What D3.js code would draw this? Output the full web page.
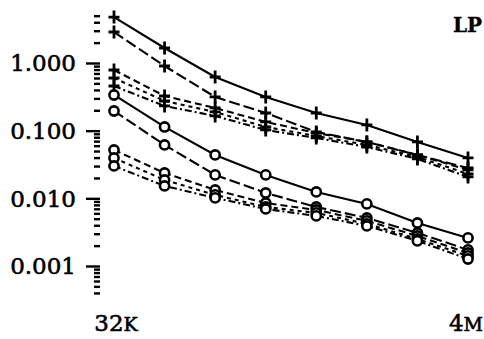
<!DOCTYPE html>
<html>
<head>
<meta charset="utf-8">
<script src="https://cdn.jsdelivr.net/npm/d3@7"></script>
<style>
  body { margin: 0; background: #fff; }
  text { font-family: "DejaVu Serif", serif; fill: #000; stroke: #000; stroke-width: 0.6px; }
</style>
</head>
<body>
<script>
// problem sizes along the x axis (32K ... 4M)
var sizes = [32768, 65536, 131072, 262144, 524288, 1048576, 2097152, 4194304]
var sizeLabels = [{ n: '32', s: 'K', at: 32768 }, { n: '4', s: 'M', at: 4194304 }]

// "+" series
var plus1 = [4.78, 1.665, 0.621, 0.315, 0.1825, 0.1214, 0.0681, 0.0395]
var plus2 = [2.87, 0.903, 0.315, 0.1825, 0.0957, 0.0681, 0.0438, 0.0281]
var plus3 = [0.788, 0.3256, 0.2165, 0.1345, 0.0925, 0.0681, 0.0438, 0.0263]
var plus4 = [0.6, 0.2746, 0.189, 0.1134, 0.0835, 0.0615, 0.0409, 0.0229]
var plus5 = [0.457, 0.2317, 0.1649, 0.1024, 0.078, 0.0574, 0.0382, 0.0207]

// "o" series
var circ1 = [0.3368, 0.1134, 0.0438, 0.0222, 0.01243, 0.00827, 0.00433, 0.0026]
var circ2 = [0.1954, 0.0615, 0.0222, 0.01202, 0.00746, 0.00513, 0.00308, 0.00173]
var circ3 = [0.0519, 0.0237, 0.0133, 0.00855, 0.00674, 0.00464, 0.00278, 0.00156]
var circ4 = [0.0395, 0.0187, 0.01123, 0.00746, 0.00609, 0.00419, 0.00251, 0.00141]
var circ5 = [0.0301, 0.01525, 0.01014, 0.00697, 0.0055, 0.00391, 0.00235, 0.00127]

var yLabels = [1, 0.1, 0.01, 0.001]

var dashes = ['none', '11,4', '7,4', '4,4', '7,3,2,3']

var series = [
    { vals: plus1, mark: '+', dash: dashes[0] },
    { vals: plus2, mark: '+', dash: dashes[1] },
    { vals: plus3, mark: '+', dash: dashes[2] },
    { vals: plus4, mark: '+', dash: dashes[3] },
    { vals: plus5, mark: '+', dash: dashes[4] },
    { vals: circ1, mark: 'o', dash: dashes[0] },
    { vals: circ2, mark: 'o', dash: dashes[1] },
    { vals: circ3, mark: 'o', dash: dashes[2] },
    { vals: circ4, mark: 'o', dash: dashes[3] },
    { vals: circ5, mark: 'o', dash: dashes[4] }
]

var svg = d3.select('body').append('svg')
    .attr('width', 484)
    .attr('height', 339)

var x = d3.scaleLog().base(2)
    .domain([32768, 4194304])
    .range([114, 468])

var y = d3.scaleLog()
    .domain([0.001, 1])
    .range([266, 63])

// y axis: tick marks only, every 1..9 x 10^n between 0.0004 and 5
var minor = []
for (var e = -4; e <= 0; e++) {
    for (var k = 1; k <= 9; k++) {
        var v = +(k * Math.pow(10, e)).toPrecision(3)
        if (v >= 0.0004 && v <= 5) minor.push(v)
    }
}

var yAxis = d3.axisLeft(y)
    .tickValues(minor)
    .tickSize(6)
    .tickFormat('')

var ga = svg.append('g')
    .attr('transform', 'translate(100,0)')
    .call(yAxis)
ga.select('.domain').remove()
ga.selectAll('.tick line')
    .attr('stroke-width', 2.4)
    .attr('x2', function (d) { return yLabels.indexOf(d) >= 0 ? -14 : -6 })

svg.selectAll('.ylab')
    .data(yLabels)
    .enter().append('text')
    .attr('class', 'ylab')
    .attr('x', 76)
    .attr('y', function (d) { return y(d) })
    .attr('dy', '0.36em')
    .attr('text-anchor', 'end')
    .style('font-size', '23px')
    .text(function (d) { return d3.format('.3f')(d) })

// x labels with small-cap suffix
var xl = svg.selectAll('.xlab')
    .data(sizeLabels)
    .enter().append('text')
    .attr('class', 'xlab')
    .attr('x', function (d, i) { return i == 0 ? x(d.at) + 2 : 483 })
    .attr('y', 331)
    .attr('text-anchor', function (d, i) { return i == 0 ? 'middle' : 'end' })
    .style('font-size', '23px')
xl.append('tspan').text(function (d) { return d.n })
xl.append('tspan').style('font-size', '19px').text(function (d) { return d.s })

svg.append('text')
    .attr('x', 482)
    .attr('y', 32)
    .attr('text-anchor', 'end')
    .style('font-size', '20px')
    .style('font-weight', 'bold')
    .style('stroke-width', '0.3px')
    .text('LP')

var line = d3.line()
    .x(function (d, i) { return x(sizes[i]) })
    .y(function (d) { return y(d) })

var g = svg.selectAll('.series')
    .data(series)
    .enter().append('g')
    .attr('class', 'series')

g.append('path')
    .attr('d', function (d) { return line(d.vals) })
    .attr('fill', 'none')
    .attr('stroke', '#000')
    .attr('stroke-width', 2.1)
    .attr('stroke-dasharray', function (d) { return d.dash })

g.each(function (s) {
    var pts = d3.select(this).selectAll('.pt')
        .data(s.vals)
        .enter().append('g')
        .attr('transform', function (d, i) { return 'translate(' + x(sizes[i]) + ',' + y(d) + ')' })
    if (s.mark == '+') {
        pts.append('path')
            .attr('d', 'M-5.5,0H5.5M0,-6.5V6.5')
            .attr('stroke', '#000')
            .attr('stroke-width', 2.8)
    } else {
        pts.append('circle')
            .attr('r', 4.6)
            .attr('fill', '#fff')
            .attr('stroke', '#000')
            .attr('stroke-width', 2.6)
    }
})
</script>
</body>
</html>
